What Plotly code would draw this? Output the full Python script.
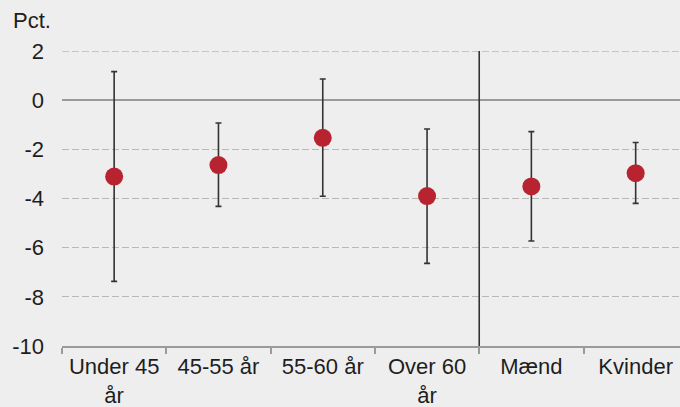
import plotly.graph_objects as go

categories = ["Under 45<br>år", "45-55 år", "55-60 år", "Over 60<br>år", "Mænd", "Kvinder"]
estimate = [-3.11, -2.64, -1.53, -3.90, -3.51, -2.97]
lower = [-7.37, -4.32, -3.91, -6.64, -5.73, -4.20]
upper = [1.16, -0.93, 0.86, -1.17, -1.28, -1.72]
y_ticks = [-10, -8, -6, -4, -2, 0, 2]

err_plus = [u - e for u, e in zip(upper, estimate)]
err_minus = [e - l for e, l in zip(estimate, lower)]

bg = "#EEEEEE"
grid_color = "#B8B8B8"
grid_dash = "7px,3px"
font = dict(family="Liberation Sans, Arial, sans-serif", size=22, color="#1e1e1e")

fig = go.Figure()
fig.add_trace(go.Scatter(
    x=categories, y=estimate, mode="markers",
    marker=dict(size=18, color="#B72430", line=dict(width=0)),
    error_y=dict(type="data", symmetric=False, array=err_plus, arrayminus=err_minus,
                 color="#333333", thickness=1.6, width=3),
    showlegend=False,
))

# top gridline (at the edge of the range, which Plotly omits)
fig.add_shape(type="line", xref="paper", yref="y", x0=0, x1=1, y0=max(y_ticks), y1=max(y_ticks),
              line=dict(color=grid_color, width=1.3, dash=grid_dash), layer="below")

# separator between age groups and gender
fig.add_shape(type="line", xref="x", yref="y", x0=3.5, x1=3.5, y0=min(y_ticks), y1=max(y_ticks),
              line=dict(color="#333333", width=1.6), layer="above")

fig.add_annotation(text="Pct.", xref="paper", yref="paper", x=-0.082, y=1.105,
                   xanchor="left", yanchor="middle", showarrow=False, font=font)

fig.update_layout(
    width=680, height=407,
    margin=dict(l=62, r=0, t=51, b=61, autoexpand=False),
    paper_bgcolor=bg, plot_bgcolor=bg,
    font=font,
)
fig.update_xaxes(
    type="category", range=[-0.5, 5.425],
    tickson="boundaries", ticks="outside", ticklen=6, tickcolor="#9a9a9a", tickwidth=1.5,
    showgrid=False, showline=True, linecolor="#9a9a9a", linewidth=1.5,
    tickfont=font, fixedrange=True, ticklabelstandoff=0, automargin=False,
)
fig.update_yaxes(
    range=[-10, 2], tickvals=y_ticks, ticktext=[str(v) for v in y_ticks],
    showgrid=True, gridcolor=grid_color, griddash=grid_dash, gridwidth=1.3,
    zeroline=True, zerolinecolor="#9a9a9a", zerolinewidth=1.6,
    showline=False, ticks="", ticklabelstandoff=17, tickfont=font, automargin=False,
)

fig.write_html("out.html", config={"displayModeBar": False},
               post_script="document.body.style.margin='0';document.body.style.background='#EEEEEE';")
